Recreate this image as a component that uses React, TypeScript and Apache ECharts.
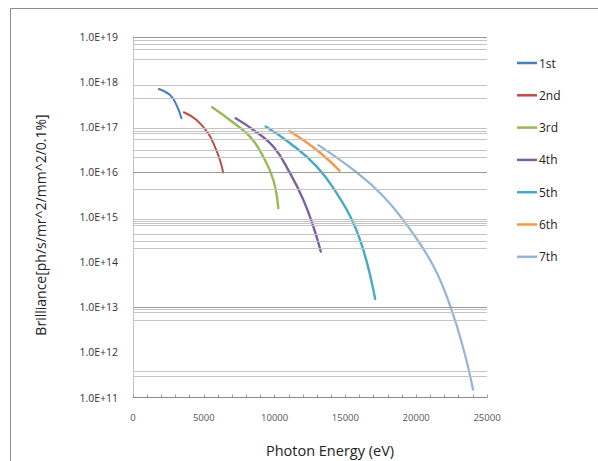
import React, { useEffect, useRef } from "react";
import * as echarts from "echarts";

const seriesNames = ["1st", "2nd", "3rd", "4th", "5th", "6th", "7th"];
const seriesColors = ["#4a7ebb", "#be4b48", "#98b954", "#7d60a0", "#46aac5", "#f79646", "#95b3d7"];
const seriesWidths = [2, 2, 2.4, 2.4, 2.4, 2.4, 2.2];

const h1: [number, number][] = [[1820, 7.0e17], [2600, 5.2e17], [3070, 3.1e17], [3420, 1.57e17]];
const h2: [number, number][] = [[3590, 2.14e17], [4490, 1.44e17], [5310, 7.3e16], [5780, 3.7e16], [6140, 1.87e16], [6370, 9.8e15]];
const h3: [number, number][] = [[5590, 2.76e17], [6840, 1.44e17], [8260, 6.15e16], [9200, 2.2e16], [9910, 6.7e15], [10260, 1.59e15]];
const h4: [number, number][] = [[7250, 1.57e17], [8490, 8.7e16], [9910, 3.7e16], [11090, 9.5e15], [12030, 2.43e15], [12740, 6.2e14], [13260, 1.74e14]];
const h5: [number, number][] = [[9370, 1.03e17], [11090, 4.4e16], [12980, 1.33e16], [14390, 3.4e15], [15570, 7.4e14], [16400, 1.35e14], [17100, 1.55e13]];
const h6: [number, number][] = [[11040, 8.2e16], [12980, 3.1e16], [14580, 1.08e16]];
const h7: [number, number][] = [[13090, 4.0e16], [15570, 1.12e16], [17690, 2.9e15], [19580, 5.3e14], [21230, 8.1e13], [22410, 1.05e13], [23350, 1.15e12], [24020, 1.49e11]];
const harmonics = [h1, h2, h3, h4, h5, h6, h7];

const gridLightValues = [
  8.5e18, 6.8e18, 5.4e18, 3.2e18, 8.7e17, 4.3e17, 9.5e16, 8.3e16, 7.2e16, 5.4e16, 3.1e16, 2.1e16,
  4.1e15, 9.1e14, 8.3e14, 7.4e14, 6.5e14, 4.3e14, 3.0e14, 2.0e14, 8.9e12, 7.8e12, 5.1e12, 3.8e11, 3.0e11,
];
const gridDarkValues = [1e19, 1e16, 1e13];

const xMin = 0;
const xMax = 25000;
const xInterval = 5000;
const yMin = 1e11;
const yMax = 1e19;

export default function App() {
  const ref = useRef<HTMLDivElement>(null);
  useEffect(() => {
    if (!ref.current) return;
    const chart = echarts.init(ref.current, undefined, { renderer: "svg" });
    const font = "'Open Sans', 'Noto Sans', sans-serif";
    const gridSeries: any = {
      name: "__grid",
      type: "line",
      data: [],
      z: 1,
      silent: true,
      markLine: {
        silent: true,
        symbol: "none",
        label: { show: false },
        animation: false,
        data: [
          ...gridLightValues.map((v) => ({ yAxis: v, lineStyle: { color: "#c4c4c4", width: 1, type: "solid" } })),
          ...gridDarkValues.map((v) => ({ yAxis: v, lineStyle: { color: "#9a9a9a", width: 1, type: "solid" } })),
        ],
      },
    };
    const lines = harmonics.map((d, i) => ({
      name: seriesNames[i],
      type: "line",
      data: d,
      z: 3,
      smooth: 0.45,
      symbol: "none",
      showSymbol: false,
      color: seriesColors[i],
      lineStyle: { color: seriesColors[i], width: seriesWidths[i], cap: "round", join: "round" },
    }));
    chart.setOption({
      animation: false,
      backgroundColor: "#ffffff",
      grid: { left: 133, right: 111, top: 37, bottom: 63.5, containLabel: false },
      legend: {
        data: seriesNames.map((n, i) => ({ name: n, icon: "rect", itemStyle: { color: seriesColors[i] } })),
        orient: "vertical",
        left: 517,
        top: 56,
        padding: 0,
        itemWidth: 20,
        itemHeight: 2.5,
        itemGap: 18.3,
        textStyle: { fontFamily: font, fontSize: 12, color: "#222", lineHeight: 14, padding: [0, 0, 0, -3] },
      },
      xAxis: {
        type: "value",
        min: xMin,
        max: xMax,
        interval: xInterval,
        axisLine: { show: true, lineStyle: { color: "#8a8a8a", width: 1 } },
        axisTick: { show: true, inside: true, length: 3, lineStyle: { color: "#9a9a9a" } },
        minorTick: { show: true, splitNumber: 5, length: 3, lineStyle: { color: "#9a9a9a" } },
        splitLine: { show: false },
        axisLabel: { fontFamily: font, fontSize: 9.5, color: "#555", margin: 15, formatter: (v: number) => String(v) },
      },
      yAxis: {
        type: "log",
        logBase: 10,
        min: yMin,
        max: yMax,
        axisLine: { show: true, lineStyle: { color: "#c0c0c0", width: 1 } },
        axisTick: { show: false },
        splitLine: { show: false },
        axisLabel: {
          fontFamily: font,
          fontSize: 10.5,
          color: "#333",
          margin: 15,
          formatter: (v: number) => "1.0E+" + Math.round(Math.log10(v)),
        },
      },
      graphic: [
        {
          type: "rect",
          shape: { x: 10.5, y: 8.5, width: 600, height: 470 },
          style: { fill: "none", stroke: "#8c8c8c", lineWidth: 1 },
          silent: true,
        },
        {
          type: "text",
          x: 40,
          y: 225,
          rotation: Math.PI / 2,
          style: {
            text: "Brilliance[ph/s/mr^2/mm^2/0.1%]",
            fontFamily: font,
            fontSize: 14,
            fill: "#222",
            textAlign: "center",
            textVerticalAlign: "middle",
          },
        },
        {
          type: "text",
          x: 330,
          y: 450,
          style: {
            text: "Photon Energy (eV)",
            fontFamily: font,
            fontSize: 14.5,
            fill: "#222",
            textAlign: "center",
            textVerticalAlign: "middle",
          },
        },
      ],
      series: [gridSeries, ...lines],
    });
    return () => chart.dispose();
  }, []);
  return <div ref={ref} style={{ width: 598, height: 461, position: "absolute", left: 0, top: 0 }} />;
}
